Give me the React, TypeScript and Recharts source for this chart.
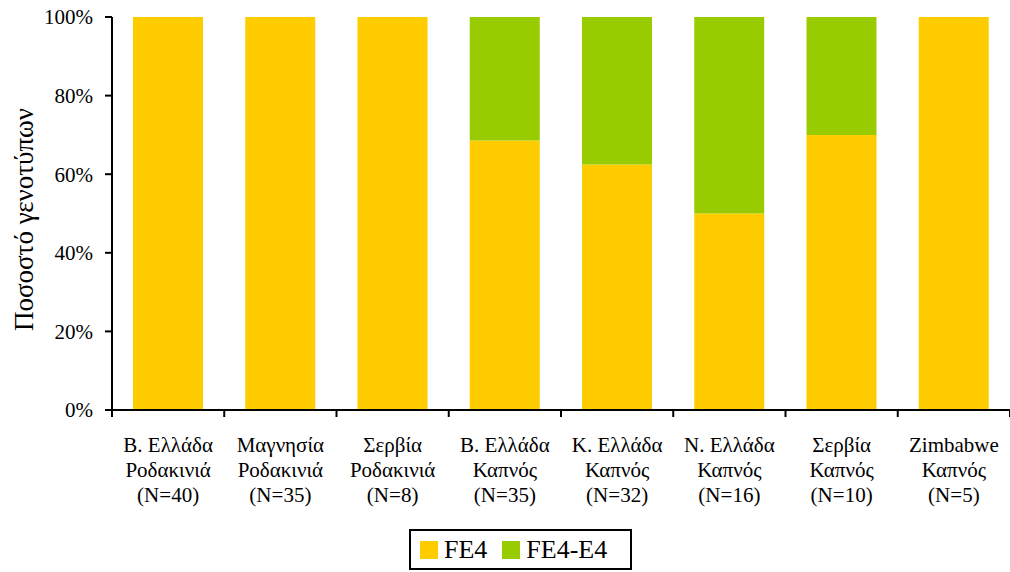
import { BarChart, Bar, XAxis, YAxis, Legend } from "recharts"

const regions = ["Β. Ελλάδα", "Μαγνησία", "Σερβία", "Β. Ελλάδα", "Κ. Ελλάδα", "Ν. Ελλάδα", "Σερβία", "Zimbabwe"]
const hosts = ["Ροδακινιά", "Ροδακινιά", "Ροδακινιά", "Καπνός", "Καπνός", "Καπνός", "Καπνός", "Καπνός"]
const sampleSizes = [40, 35, 8, 35, 32, 16, 10, 5]
const fe4 = [100, 100, 100, 68.6, 62.5, 50, 70, 100]
const fe4e4 = [0, 0, 0, 31.4, 37.5, 50, 30, 0]
const yTicks = [0, 20, 40, 60, 80, 100]

const data = regions.map((r, i) => ({
  name: `${r} ${hosts[i]}`,
  fe4: fe4[i],
  fe4e4: fe4e4[i],
}))

const FONT = "'Liberation Serif', 'Times New Roman', serif"
const YELLOW = "#FFCC00"
const GREEN = "#99CC00"

// draws the boundary tick marks + the three-line category label
function CategoryTick(props: any) {
  const { x, y, payload } = props
  const i = payload.index
  const half = payload.offset ?? 56
  const axisY = y - 8
  return (
    <g>
      <line x1={x - half} x2={x - half} y1={axisY} y2={axisY + 7} stroke="#000" strokeWidth={2} />
      {i === regions.length - 1 && (
        <line x1={x + half} x2={x + half} y1={axisY} y2={axisY + 7} stroke="#000" strokeWidth={2} />
      )}
      <text textAnchor="middle" fontFamily={FONT} fontSize={21} fill="#000">
        <tspan x={x} y={axisY + 42}>{regions[i]}</tspan>
        <tspan x={x} y={axisY + 67}>{hosts[i]}</tspan>
        <tspan x={x} y={axisY + 92}>(N={sampleSizes[i]})</tspan>
      </text>
    </g>
  )
}

function YLabel(props: any) {
  const { viewBox } = props
  const cy = viewBox.y + viewBox.height / 2 + 6
  return (
    <text
      x={33}
      y={cy}
      textAnchor="middle"
      transform={`rotate(-90, 33, ${cy})`}
      fontFamily={FONT}
      fontSize={27}
      fill="#000"
    >
      Ποσοστό γενοτύπων
    </text>
  )
}

function LegendBox() {
  const items = [
    { label: "FE4", color: YELLOW },
    { label: "FE4-E4", color: GREEN },
  ]
  return (
    <div
      style={{
        display: "flex",
        alignItems: "center",
        border: "2px solid #000",
        width: 223,
        height: 41,
        paddingLeft: 9,
        boxSizing: "border-box",
        fontFamily: FONT,
        fontSize: 26,
        background: "#fff",
        lineHeight: 1,
      }}
    >
      {items.map((it, k) => (
        <div key={it.label} style={{ display: "flex", alignItems: "center", marginLeft: k ? 15 : 0 }}>
          <span style={{ width: 18, height: 18, background: it.color, display: "inline-block", marginRight: 6 }} />
          <span>{it.label}</span>
        </div>
      ))}
    </div>
  )
}

export default function App() {
  return (
    <div>
      <style>{"body{margin:0}"}</style>
      <BarChart
        width={1010}
        height={572}
        data={data}
        margin={{ top: 17, right: 0, left: 0, bottom: 0 }}
        barSize={70}
      >
        <XAxis
          dataKey="name"
          tick={<CategoryTick />}
          tickLine={false}
          interval={0}
          height={121}
          axisLine={{ stroke: "#000", strokeWidth: 2 }}
        />
        <YAxis
          domain={[0, 100]}
          ticks={yTicks}
          tickFormatter={(v: number) => `${v}%`}
          width={112}
          tickSize={7}
          tickMargin={12}
          axisLine={{ stroke: "#000", strokeWidth: 2 }}
          tickLine={{ stroke: "#000", strokeWidth: 2 }}
          tick={{ fill: "#000", fontSize: 21, fontFamily: FONT }}
          label={<YLabel />}
        />
        <Legend
          verticalAlign="bottom"
          content={<LegendBox />}
          wrapperStyle={{ left: 409, width: "auto", bottom: 2 }}
        />
        <Bar dataKey="fe4" name="FE4" stackId="a" fill={YELLOW} isAnimationActive={false} />
        <Bar dataKey="fe4e4" name="FE4-E4" stackId="a" fill={GREEN} isAnimationActive={false} />
      </BarChart>
    </div>
  )
}
